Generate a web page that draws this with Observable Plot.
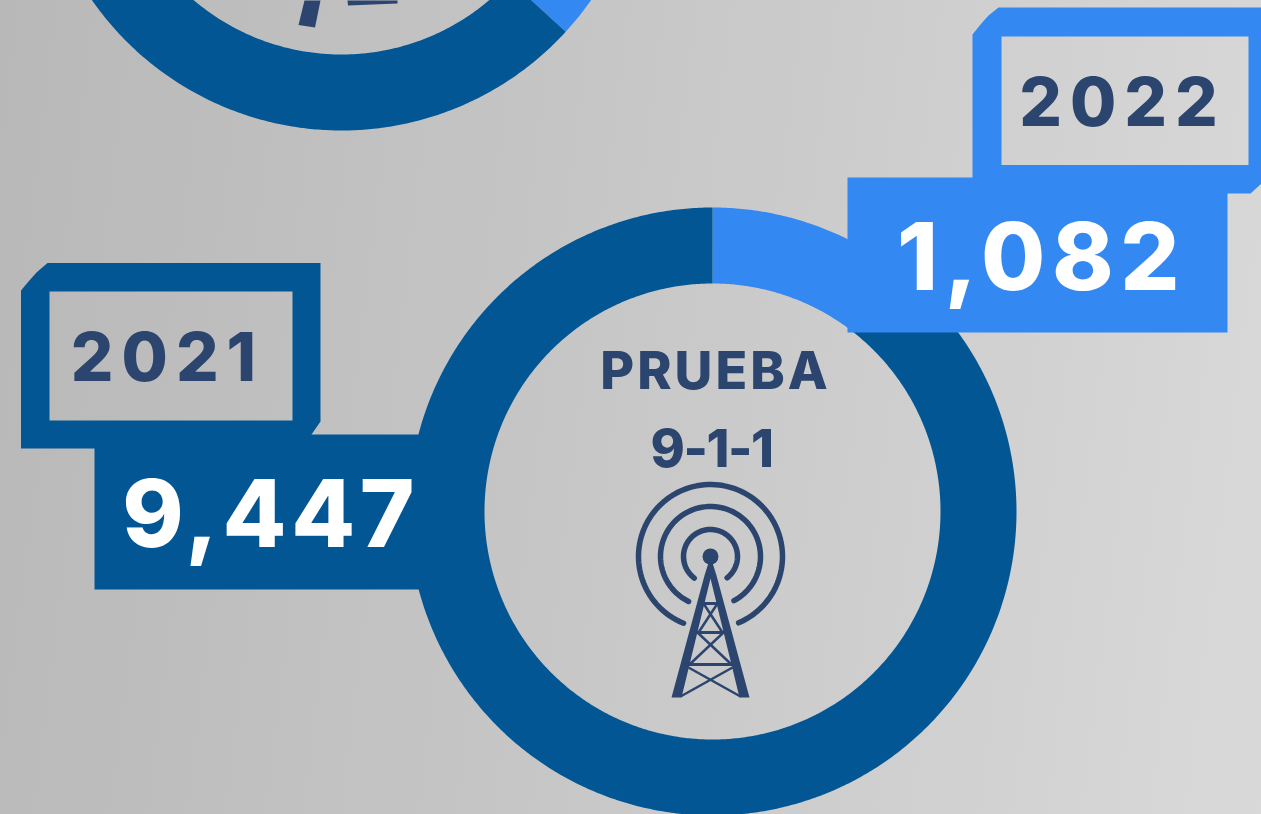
<!DOCTYPE html>
<html>
<head>
<meta charset="utf-8">
<script src="https://cdn.jsdelivr.net/npm/d3@7"></script>
<script src="https://cdn.jsdelivr.net/npm/@observablehq/plot@0.6"></script>
<style>
html,body{margin:0;padding:0;overflow:hidden;width:1261px;height:814px}
svg{display:block}
text{font-family:Inter,sans-serif}
.year text{letter-spacing:8px}
.value1 text{letter-spacing:4.5px}
.value2 text{letter-spacing:6.5px}
.title1 text{letter-spacing:3px}
.title2 text{letter-spacing:-1.5px}
</style>
</head>
<body>
<script>
// ---- data ----
const years = ["2021", "2022"];
const tests = [9447, 1082];
const valueLabels = ["9,447", "1,082"];
const titleLines = ["PRUEBA", "9-1-1"];
const previousShares = [63.2, 36.8]; // cropped donut above: dark part, light part

// ---- styles & layout ----
const dark = "#035694", light = "#3388F2", navy = "#2B456F";
const R = 304, r = 228;
const mainC = [712, 511], prevC = [341, -174];

const lineOf = (pts, fill) => Plot.line(pts, {x: d => d[0], y: d => d[1], fill, stroke: "none", curve: "linear-closed"});
const polar = (c, rad, deg) => [c[0] + rad * Math.sin(deg * Math.PI / 180), c[1] - rad * Math.cos(deg * Math.PI / 180)];
function wedge(c, a0, a1) {
  const n = Math.ceil(Math.abs(a1 - a0) * 2), o = [], i = [];
  for (let k = 0; k <= n; k++) {
    const a = a0 + (a1 - a0) * k / n;
    o.push(polar(c, R, a));
    i.unshift(polar(c, r, a));
  }
  return o.concat(i);
}
function donut(c, vals, colors) {
  const tot = d3.sum(vals);
  let a = 0;
  return vals.map((v, j) => {
    const s = wedge(c, a, a + v / tot * 360);
    a += v / tot * 360;
    return lineOf(s, colors[j]);
  });
}
const rect = (x0, y0, x1, y1) => [[x0, y0], [x1, y0], [x1, y1], [x0, y1]];
// frame: outer outline, seam into the hole, hole wound the other way
const frame = (outer, hole) => outer.concat([outer[0], hole[0], hole[3], hole[2], hole[1], hole[0]]);

const frame2021 = frame(
  [[20.5, 290], [28, 281], [36, 272], [47, 262.5], [320, 262.5], [320, 421], [311, 434], [311, 448], [20.5, 448]],
  rect(49, 291, 292, 420));
const frame2022 = frame(
  [[972, 34], [980, 24], [988, 15], [998, 7], [1262, 7], [1262, 182], [1250, 193], [972, 193]],
  rect(1001, 36, 1248, 164.5));

const arcPts = (c, rad, gap) => d3.range(180 + gap, 540 - gap + 0.1, 3).map(a => polar(c, rad, a));
const tc = [710, 556];
const strut = (pts, w) => Plot.line(pts, {x: d => d[0], y: d => d[1], stroke: navy, strokeWidth: w, strokeLinecap: "butt"});

const text = (label, x, y, size, fill, className, weight) =>
  Plot.text([label], {x: () => x, y: () => y, text: d => d, fontSize: size, fill, className, fontWeight: weight, textAnchor: "middle", lineAnchor: "middle"});

const chart = Plot.plot({
  width: 1261, height: 814,
  marginTop: 0, marginRight: 0, marginBottom: 0, marginLeft: 0,
  x: {domain: [0, 1261], range: [0, 1261], axis: null},
  y: {domain: [0, 814], range: [0, 814], axis: null},
  style: {background: "linear-gradient(97deg,#b8b8b8 0%,#c6c6c6 45%,#d9d9d9 100%)", overflow: "hidden"},
  marks: [
    // cropped donut
    ...donut(prevC, [previousShares[1], previousShares[0]], [light, dark]),
    lineOf([[304, 0], [320, 0], [314.5, 27], [298, 24.5]], navy),
    lineOf([[347, 0], [397, 0], [397, 3], [347.5, 5]], navy),
    // 2021 value box and tag
    lineOf(rect(94, 434, 440, 589), dark),
    lineOf(frame2021, dark),
    // main donut: the 2022 part starts at 12 o'clock
    ...donut(mainC, [tests[1], tests[0]], [light, dark]),
    // 2022 tag and value box
    lineOf(frame2022, light),
    lineOf(rect(847, 177, 1227, 332), light),
    // tower
    ...[72, 50, 27].map((rad, i) => Plot.line(arcPts(tc, rad, [22, 26, 37][i]), {x: d => d[0], y: d => d[1], stroke: navy, strokeWidth: 5.5})),
    Plot.dot([tc], {x: d => d[0], y: d => d[1], r: 8, fill: navy}),
    lineOf([[710, 556], [716, 575], [749, 697], [739, 697], [710, 578], [681, 697], [671, 697], [704, 575]], navy),
    strut([[702, 603], [718, 603]], 3),
    strut([[696, 632], [724, 632]], 3),
    strut([[688, 664], [732, 664]], 3),
    strut([[703, 603], [722, 632]], 2.5),
    strut([[717, 603], [698, 632]], 2.5),
    strut([[697, 632], [731, 664]], 2.5),
    strut([[723, 632], [689, 664]], 2.5),
    strut([[688, 667], [740, 696]], 2.5),
    strut([[732, 667], [680, 696]], 2.5),
    // texts
    text(titleLines[0], 715, 372, 52, navy, "title1", 800),
    text(titleLines[1], 711, 450, 52, navy, "title2", 800),
    text(years[0], 167, 359, 67, navy, "year", 800),
    text(years[1], 1122, 104, 67, navy, "year", 800),
    text(valueLabels[0], 270, 517, 93, "#fff", "value1", 800),
    text(valueLabels[1], 1041, 260, 93, "#fff", "value2", 800)
  ]
});
document.body.appendChild(chart);
</script>
</body>
</html>
